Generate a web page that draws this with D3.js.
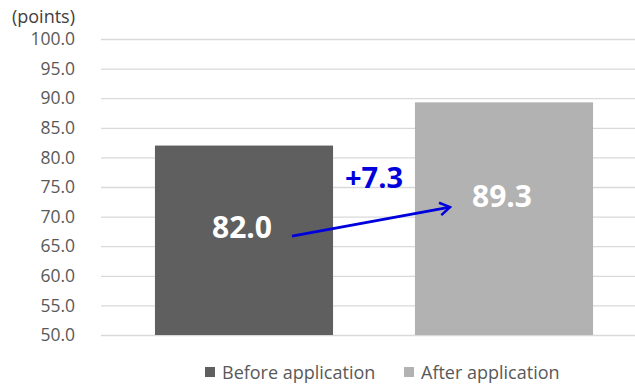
<!DOCTYPE html>
<html>
<head>
<meta charset="utf-8">
<script src="https://cdn.jsdelivr.net/npm/d3@7"></script>
<style>
  body { margin: 0; background: #fff; }
  text { font-family: "Open Sans", "Noto Sans", sans-serif; }
</style>
</head>
<body>
<div id="chart"></div>
<script>
// data
const categories = ["Before application", "After application"];
const values = [82.0, 89.3];
const colors = ["#5f5f5f", "#b2b2b2"];
const yTicks = [50, 55, 60, 65, 70, 75, 80, 85, 90, 95, 100];
const diffLabel = "+7.3";

const width = 635, height = 386;
const svg = d3.select("#chart").append("svg")
    .attr("width", width).attr("height", height);

const x = d3.scaleBand().domain(categories).range([114, 634])
    .paddingInner(0.315).paddingOuter(0.1575);
const y = d3.scaleLinear().domain([50, 100]).range([335, 39]);

// y axis + gridlines
const yAxis = d3.axisLeft(y).tickValues(yTicks).tickFormat(d3.format(".1f"))
    .tickSize(-534).tickPadding(26);
const gy = svg.append("g").attr("transform", "translate(101,0)").call(yAxis);
gy.select(".domain").remove();
gy.selectAll(".tick line").attr("stroke", "#d9d9d9").attr("stroke-width", 1.3);
gy.selectAll(".tick text").attr("fill", "#595959").style("font-size", "17.5px");

svg.append("text").attr("x", 75).attr("y", 23).attr("text-anchor", "end")
    .attr("fill", "#404040").style("font-size", "18px").text("(points)");

// bars
svg.selectAll("rect.bar").data(values).join("rect")
    .attr("class", "bar")
    .attr("x", (d, i) => x(categories[i]))
    .attr("width", x.bandwidth())
    .attr("y", d => y(d))
    .attr("height", d => y(50) - y(d))
    .attr("fill", (d, i) => colors[i]);

// value labels
const labelDy = [-2, -12];
svg.selectAll("text.val").data(values).join("text")
    .attr("class", "val")
    .attr("x", (d, i) => x(categories[i]) + x.bandwidth() / 2 - 2)
    .attr("y", d => y((d + 50) / 2))
    .attr("dy", (d, i) => labelDy[i])
    .attr("text-anchor", "middle")
    .attr("fill", "#fff").style("font-size", "30px").style("font-weight", "bold")
    .text(d => d.toFixed(1));

// arrow
svg.append("defs").append("marker")
    .attr("id", "arrowhead").attr("viewBox", "0 0 12 12")
    .attr("refX", 10).attr("refY", 6)
    .attr("markerWidth", 5).attr("markerHeight", 5)
    .attr("markerUnits", "strokeWidth").attr("orient", "auto")
    .append("path").attr("d", "M2,1 L10,6 L2,11")
    .attr("fill", "none").attr("stroke", "#0000dd").attr("stroke-width", 2);

const x0 = x(categories[0]) + x.bandwidth() / 2 + 48;
const x1 = x(categories[1]) + x.bandwidth() / 2 - 54;
svg.append("line")
    .attr("x1", x0).attr("y1", y(values[0] - 15.3))
    .attr("x2", x1).attr("y2", y(values[1] - 17.7))
    .attr("stroke", "#0000dd").attr("stroke-width", 3)
    .attr("marker-end", "url(#arrowhead)");

svg.append("text")
    .attr("x", (x(categories[0]) + x.bandwidth() + x(categories[1])) / 2)
    .attr("y", 188).attr("text-anchor", "middle")
    .attr("fill", "#0000dd").style("font-size", "29px").style("font-weight", "bold")
    .text(diffLabel);

// legend
const legX = [205, 404];
const leg = svg.selectAll("g.leg").data(categories).join("g")
    .attr("class", "leg")
    .attr("transform", (d, i) => `translate(${legX[i]},367)`);
leg.append("rect").attr("width", 10).attr("height", 10)
    .attr("fill", (d, i) => colors[i]);
leg.append("text").attr("x", 17).attr("y", 11.5)
    .attr("fill", "#595959").style("font-size", "18px").text(d => d);
</script>
</body>
</html>
